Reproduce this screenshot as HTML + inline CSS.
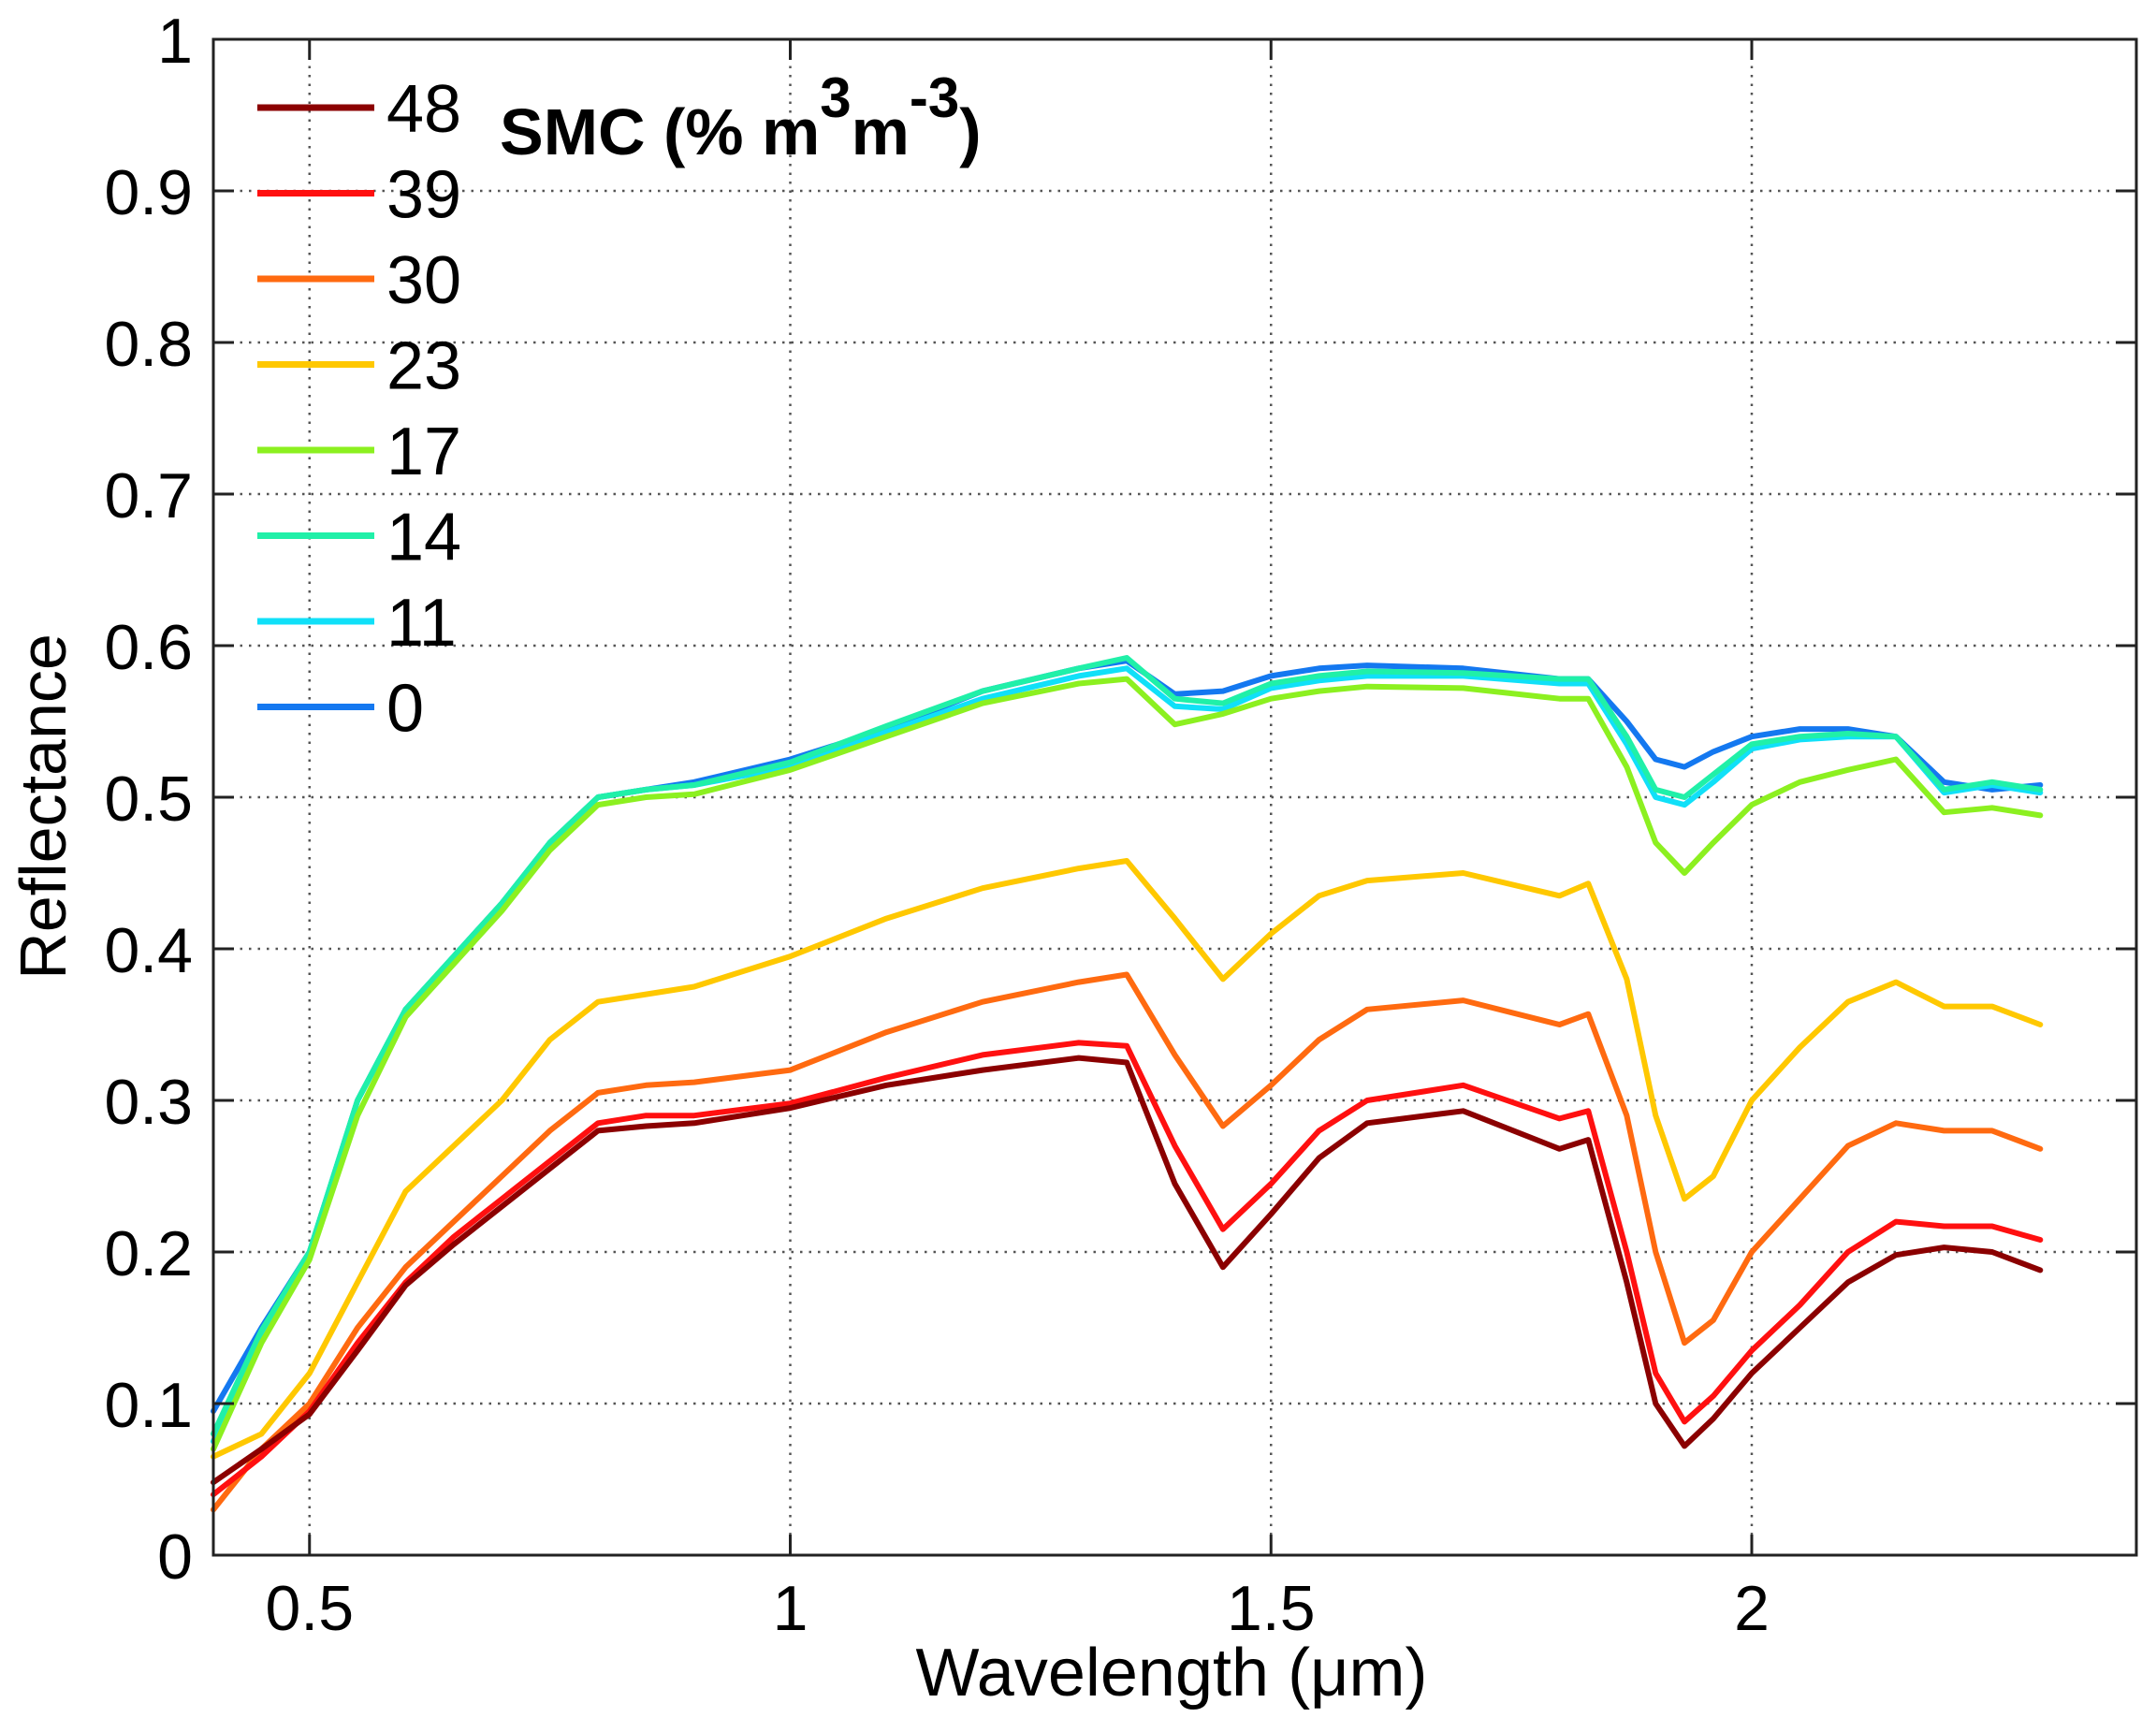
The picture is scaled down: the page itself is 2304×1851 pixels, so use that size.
<!DOCTYPE html>
<html><head><meta charset="utf-8"><style>
html,body{margin:0;padding:0;background:#fff;}
svg{display:block;font-family:"Liberation Sans",sans-serif;}
</style></head><body>
<svg id="chart" width="2304" height="1851" viewBox="0 0 2304 1851" xmlns="http://www.w3.org/2000/svg">
<rect width="2304" height="1851" fill="#fff"/>
<g id="grid"></g>
<g id="series"></g>
<rect x="228" y="42" width="2055" height="1620" fill="none" stroke="#222" stroke-width="3"/>
<g id="ticks"></g>
<text transform="translate(70,862) rotate(-90)" text-anchor="middle" font-size="70">Reflectance</text>
<text x="1252" y="1812" text-anchor="middle" font-size="72">Wavelength (μm)</text>
<g id="legend"></g>
<text x="534" y="165" font-size="70" font-weight="bold">SMC (% m<tspan dy="-40" font-size="60">3</tspan><tspan dy="40">m</tspan><tspan dy="-40" font-size="60">-3</tspan><tspan dy="40">)</tspan></text>
</svg>
<script>
const wavelengths=[0.40,0.45,0.5,0.55,0.6,0.65,0.7,0.75,0.8,0.85,0.9,1.0,1.1,1.2,1.3,1.35,1.4,1.45,1.5,1.55,1.6,1.7,1.8,1.83,1.87,1.9,1.93,1.96,2.0,2.05,2.1,2.15,2.2,2.25,2.3];
const smcLabels=["48","39","30","23","17","14","11","0"];
const colors=["#8b0000","#ff1010","#ff6a10","#ffc800","#8cf020","#20f0a8","#10e0f8","#1478f0"];
const s48=[0.048,0.07,0.093,0.135,0.178,0.205,0.23,0.255,0.28,0.283,0.285,0.295,0.31,0.32,0.328,0.325,0.245,0.19,0.225,0.262,0.285,0.293,0.268,0.274,0.18,0.1,0.072,0.09,0.12,0.15,0.18,0.198,0.203,0.2,0.188];
const s39=[0.04,0.065,0.095,0.14,0.18,0.21,0.235,0.26,0.285,0.29,0.29,0.298,0.315,0.33,0.338,0.336,0.27,0.215,0.245,0.28,0.3,0.31,0.288,0.293,0.2,0.12,0.088,0.105,0.135,0.165,0.2,0.22,0.217,0.217,0.208];
const s30=[0.03,0.07,0.1,0.15,0.19,0.22,0.25,0.28,0.305,0.31,0.312,0.32,0.345,0.365,0.378,0.383,0.33,0.283,0.31,0.34,0.36,0.366,0.35,0.357,0.29,0.2,0.14,0.155,0.2,0.235,0.27,0.285,0.28,0.28,0.268];
const s23=[0.065,0.08,0.12,0.18,0.24,0.27,0.3,0.34,0.365,0.37,0.375,0.395,0.42,0.44,0.453,0.458,0.42,0.38,0.41,0.435,0.445,0.45,0.435,0.443,0.38,0.29,0.235,0.25,0.3,0.335,0.365,0.378,0.362,0.362,0.35];
const s17=[0.07,0.14,0.195,0.29,0.355,0.39,0.425,0.465,0.495,0.5,0.502,0.518,0.54,0.562,0.575,0.578,0.548,0.555,0.565,0.57,0.573,0.572,0.565,0.565,0.52,0.47,0.45,0.47,0.495,0.51,0.518,0.525,0.49,0.493,0.488];
const s14=[0.08,0.148,0.2,0.3,0.36,0.395,0.43,0.47,0.5,0.505,0.508,0.523,0.547,0.57,0.585,0.592,0.565,0.562,0.575,0.58,0.583,0.582,0.578,0.578,0.54,0.505,0.5,0.515,0.535,0.54,0.542,0.54,0.505,0.51,0.505];
const s11=[0.075,0.145,0.2,0.3,0.36,0.395,0.43,0.47,0.5,0.505,0.508,0.52,0.543,0.565,0.58,0.585,0.56,0.558,0.572,0.577,0.58,0.58,0.575,0.575,0.535,0.5,0.495,0.51,0.532,0.538,0.54,0.54,0.503,0.508,0.503];
const s0=[0.095,0.15,0.2,0.3,0.36,0.395,0.43,0.47,0.5,0.505,0.51,0.525,0.545,0.57,0.585,0.59,0.568,0.57,0.58,0.585,0.587,0.585,0.578,0.578,0.55,0.525,0.52,0.53,0.54,0.545,0.545,0.54,0.51,0.505,0.508];
const seriesData=[s48,s39,s30,s23,s17,s14,s11,s0];
const xTicks=[0.5,1,1.5,2];
const xTickLabels=["0.5","1","1.5","2"];
const yTicks=[0,0.1,0.2,0.3,0.4,0.5,0.6,0.7,0.8,0.9,1];
const yTickLabels=["0","0.1","0.2","0.3","0.4","0.5","0.6","0.7","0.8","0.9","1"];

const NS="http://www.w3.org/2000/svg";
const L=228,R=2283,T=42,B=1662,X0=0.4,X1=2.4;
function xs(v){return L+(v-X0)/(X1-X0)*(R-L);}
function ys(v){return B-v*(B-T);}
function mk(tag,attrs,parent){const e=document.createElementNS(NS,tag);for(const k in attrs)e.setAttribute(k,attrs[k]);parent.appendChild(e);return e;}
const grid=document.getElementById('grid'),ticks=document.getElementById('ticks');
xTicks.forEach((v,i)=>{
  const g=mk('line',{x1:xs(v),x2:xs(v),y1:T,y2:B,stroke:'#555','stroke-width':2.5,'stroke-dasharray':'2.5 7'},grid);
  
  
  const t=mk('line',{x1:xs(v),x2:xs(v),y1:B,y2:B-22,stroke:'#222','stroke-width':3},ticks);
  
  
  const t2=mk('line',{x1:xs(v),x2:xs(v),y1:T,y2:T+22,stroke:'#222','stroke-width':3},ticks);
  
  
  const lb=mk('text',{x:xs(v),y:1742,'text-anchor':'middle','font-size':68},ticks);
  lb.textContent=xTickLabels[i];
  
  
});
yTicks.forEach((v,i)=>{
  if(v>0&&v<1){
    const g=mk('line',{x1:L,x2:R,y1:ys(v),y2:ys(v),stroke:'#555','stroke-width':2.5,'stroke-dasharray':'2.5 7'},grid);
    
    
  }
  const t=mk('line',{x1:L,x2:L+22,y1:ys(v),y2:ys(v),stroke:'#222','stroke-width':3},ticks);
  
  
  const t2=mk('line',{x1:R,x2:R-22,y1:ys(v),y2:ys(v),stroke:'#222','stroke-width':3},ticks);
  
  
  const lb=mk('text',{x:206,y:ys(v)+25,'text-anchor':'end','font-size':68},ticks);
  lb.textContent=yTickLabels[i];
  
  
});
const sg=document.getElementById('series');
for(let k=seriesData.length-1;k>=0;k--){
  const pts=wavelengths.map((w,i)=>xs(w).toFixed(1)+','+ys(seriesData[k][i]).toFixed(1)).join(' ');
  const p=mk('polyline',{points:pts,fill:'none',stroke:colors[k],'stroke-width':6,'stroke-linejoin':'round','stroke-linecap':'round'},sg);
  
  
}
const lg=document.getElementById('legend');
smcLabels.forEach((s,i)=>{
  const y=115+i*91.5;
  const ln=mk('line',{x1:275,x2:400,y1:y,y2:y,stroke:colors[i],'stroke-width':7},lg);
  
  
  const tx=mk('text',{x:413,y:y+26,'font-size':72},lg);
  tx.textContent=s;
  
  
});
</script>
</body></html>
